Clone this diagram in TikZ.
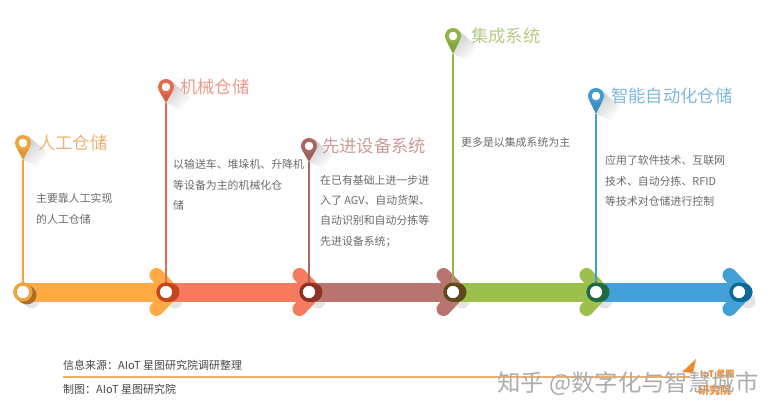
\documentclass[tikz,border=0pt]{standalone}
\usepackage{fontspec}
\setmainfont{Noto Sans CJK SC}
\usepackage{xcolor}
\usetikzlibrary{positioning,calc}
\definecolor{bandorange}{HTML}{FFAA45}
\definecolor{bandcoral}{HTML}{F47B5E}
\definecolor{bandmauve}{HTML}{B87570}
\definecolor{bandgreen}{HTML}{9CC04C}
\definecolor{bandblue}{HTML}{44A0D8}
\definecolor{pinorange}{HTML}{EFA53F}
\definecolor{pincoral}{HTML}{E56A50}
\definecolor{pinmauve}{HTML}{AC6662}
\definecolor{pingreen}{HTML}{8FB344}
\definecolor{pinblue}{HTML}{3F9BD0}
\definecolor{darkorange}{HTML}{A9702B}
\definecolor{darkcoral}{HTML}{C5461D}
\definecolor{darkmauve}{HTML}{8C3124}
\definecolor{darkgreen}{HTML}{5F4A1D}
\definecolor{darkteal}{HTML}{1F6A40}
\definecolor{darkblue}{HTML}{0F6B95}
\definecolor{titleorange}{HTML}{F0B274}
\definecolor{titlecoral}{HTML}{E99C8C}
\definecolor{titlemauve}{HTML}{CB9C98}
\definecolor{titlegreen}{HTML}{B5CC86}
\definecolor{titleblue}{HTML}{7FB9DF}
\definecolor{logoorange}{HTML}{EE8A2C}
\definecolor{rulecolor}{HTML}{EDB06C}
\tikzset{
	band/.style = {line width=19pt},
	chevron/.style = {line width=14pt, line cap=round, line join=round},
	stem/.style = {line width=1.2pt},
	ring/.style = {circle, fill=white, draw=#1, line width=3.2pt, minimum size=15.8pt, inner sep=0},
	ringdark/.style = {line width=19pt, line cap=round},
	ringshadow/.style = {line width=15pt, line cap=round, black!10},
	pinhead/.style = {circle, fill=white, draw=#1, line width=3.7pt, minimum size=12.3pt, inner sep=0},
	pinshadow/.style = {left color=black!20, right color=white, shading angle=45},
	pintitle/.style = {inner sep=0, font=\fontsize{17.3}{20}\selectfont},
	bodytext/.style = {inner sep=0, anchor=west, align=left, text=black!58, font=\fontsize{10.9}{20.4}\selectfont},
	source/.style = {inner sep=0, anchor=west, text=black!72, font=\fontsize{11}{12}\selectfont}
}

\begin{document}
\begin{tikzpicture}[x=1pt, y=-1pt]
	\useasboundingbox (0,0) rectangle (780,415);
	\fill[white] (0,0) rectangle (780,415);

	\coordinate (dot1) at (23,292);
	\coordinate (dot2) at (166,292);
	\coordinate (dot3) at (309,292);
	\coordinate (dot4) at (453,292);
	\coordinate (dot5) at (596,292);
	\coordinate (dot6) at (739,292);
	\coordinate (tip1) at (23,160);
	\coordinate (tip2) at (166,103);
	\coordinate (tip3) at (309,162);
	\coordinate (tip4) at (453,54);
	\coordinate (tip5) at (596,114);

	\draw[ringshadow] (dot1) -- ++(9,9);
	\draw[ringshadow] (dot2) -- ++(9,9);
	\draw[ringshadow] (dot3) -- ++(9,9);
	\draw[ringshadow] (dot4) -- ++(9,9);
	\draw[ringshadow] (dot5) -- ++(9,9);
	\draw[ringshadow] (dot6) -- ++(9,9);

	\draw[band, bandorange] (dot1) -- (dot2);
	\draw[band, bandcoral] (dot2) -- (dot3);
	\draw[band, bandmauve] (dot3) -- (dot4);
	\draw[band, bandgreen] (dot4) -- (dot5);
	\draw[band, bandblue] (dot5) -- (dot6);

	\draw[chevron, bandorange] ($(dot2)+(-9.5,-17)$) -- ($(dot2)+(6.5,0)$) -- ($(dot2)+(-9.5,17)$);
	\draw[chevron, bandcoral] ($(dot3)+(-9.5,-17)$) -- ($(dot3)+(6.5,0)$) -- ($(dot3)+(-9.5,17)$);
	\draw[chevron, bandmauve] ($(dot4)+(-9.5,-17)$) -- ($(dot4)+(6.5,0)$) -- ($(dot4)+(-9.5,17)$);
	\draw[chevron, bandgreen] ($(dot5)+(-9.5,-17)$) -- ($(dot5)+(6.5,0)$) -- ($(dot5)+(-9.5,17)$);
	\draw[chevron, bandblue] ($(dot6)+(-9.5,-17)$) -- ($(dot6)+(6.5,0)$) -- ($(dot6)+(-9.5,17)$);

	\draw[ringdark, darkorange] (dot1) -- ++(4,3);
	\draw[ringdark, darkcoral] (dot2) -- ++(4,0);
	\draw[ringdark, darkmauve] (dot3) -- ++(4,0);
	\draw[ringdark, darkgreen] (dot4) -- ++(4,0);
	\draw[ringdark, darkteal] (dot5) -- ++(4,0);
	\draw[ringdark, darkblue] (dot6) -- ++(4,0);

	\draw[stem, pinorange] (tip1) -- (dot1);
	\draw[stem, pincoral] (tip2) -- (dot2);
	\draw[stem, pinmauve] (tip3) -- (dot3);
	\draw[stem, pingreen] (tip4) -- (dot4);
	\draw[stem, pinblue] (tip5) -- (dot5);

	\node [ring=pinorange] (ring1) at (dot1) {};
	\node [ring=darkcoral] (ring2) at (dot2) {};
	\node [ring=darkmauve] (ring3) at (dot3) {};
	\node [ring=darkgreen] (ring4) at (dot4) {};
	\node [ring=darkteal] (ring5) at (dot5) {};
	\node [ring=darkblue] (ring6) at (dot6) {};

	\shade[pinshadow] (28,136) -- (47,152) -- (37,166) -- (tip1) -- cycle;
	\shade[pinshadow] (171,81) -- (190,97) -- (180,109) -- (tip2) -- cycle;
	\shade[pinshadow] (314,139) -- (333,155) -- (323,168) -- (tip3) -- cycle;
	\shade[pinshadow] (458,30) -- (477,46) -- (467,60) -- (tip4) -- cycle;
	\shade[pinshadow] (601,90) -- (620,106) -- (610,120) -- (tip5) -- cycle;

	\node [pinhead=pinorange] (pin1) at (23,143) {};
	\node [pinhead=pincoral] (pin2) at (166,87) {};
	\node [pinhead=pinmauve] (pin3) at (309,146) {};
	\node [pinhead=pingreen] (pin4) at (453,36) {};
	\node [pinhead=pinblue] (pin5) at (596,96) {};
	\fill[pinorange!92!black] (pin1.215) -- (tip1) -- (pin1.325) -- (pin1.270) -- cycle;
	\fill[pincoral!92!black] (pin2.215) -- (tip2) -- (pin2.325) -- (pin2.270) -- cycle;
	\fill[pinmauve!92!black] (pin3.215) -- (tip3) -- (pin3.325) -- (pin3.270) -- cycle;
	\fill[pingreen!92!black] (pin4.215) -- (tip4) -- (pin4.325) -- (pin4.270) -- cycle;
	\fill[pinblue!92!black] (pin5.215) -- (tip5) -- (pin5.325) -- (pin5.270) -- cycle;

	\node [pintitle, text=titleorange, right=7pt of pin1] (title1) {人工仓储};
	\node [pintitle, text=titlecoral, right=6pt of pin2] (title2) {机械仓储};
	\node [pintitle, text=titlemauve, right=5pt of pin3] (title3) {先进设备系统};
	\node [pintitle, text=titlegreen, right=10pt of pin4] (title4) {集成系统};
	\node [pintitle, text=titleblue, right=7pt of pin5] (title5) {智能自动化仓储};

	\node [bodytext] (body1) at (36,209) {主要靠人工实现\\的人工仓储};
	\node [bodytext] (body2) at (173,185) {以输送车、堆垛机、升降机\\等设备为主的机械化仓\\储};
	\node [bodytext] (body3) at (320,211) {在已有基础上进一步进\\入了 AGV、自动货架、\\自动识别和自动分拣等\\先进设备系统；};
	\node [bodytext] (body4) at (461,142) {更多是以集成系统为主};
	\node [bodytext] (body5) at (605,181) {应用了软件技术、互联网\\技术、自动分拣、RFID\\等技术对仓储进行控制};

	\node [source] (source1) at (63,365) {信息来源：AIoT 星图研究院调研整理};
	\node [source] (source2) at (63,389) {制图：AIoT 星图研究院};
	\coordinate (rule1) at (63,377);
	\coordinate (rule2) at (690,377);
	\coordinate (logo1) at (682,372);
	\coordinate (logo2) at (696,359);
	\coordinate (logo3) at (693,373);
	\draw[line width=1.2pt, rulecolor] (rule1) -- (rule2);
	\fill[logoorange] (logo1) -- (logo2) -- (logo3) -- cycle;
	\node [inner sep=0, anchor=west, text=logoorange, font=\fontsize{9}{10}\selectfont\bfseries] (logotop) at (700,374) {IoT 星图};
	\node [inner sep=0, anchor=west, text=logoorange, font=\fontsize{11}{12}\selectfont\bfseries] (logobottom) at (698,390) {研究院};
	\node [inner sep=0, anchor=west, text=black!32, font=\fontsize{23.4}{25}\selectfont] (mark) at (497,384) {知乎 @数字化与智慧城市};
\end{tikzpicture}
\end{document}
